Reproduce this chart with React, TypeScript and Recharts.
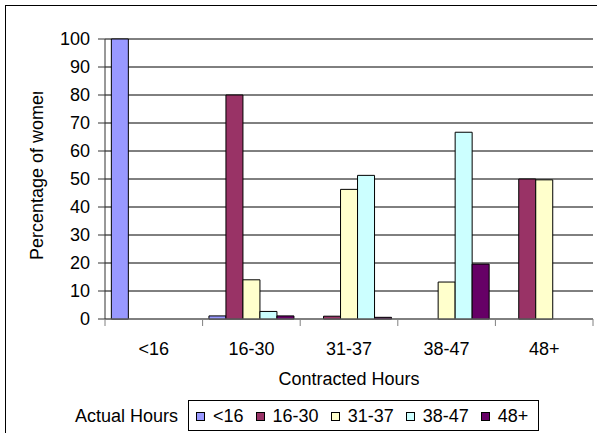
import { BarChart, Bar, XAxis, YAxis, CartesianGrid, Legend } from "recharts";

// contracted hours on the x axis, one series per band of actual hours
const contracted = ["<16", "16-30", "31-37", "38-47", "48+"];
const actualUnder16 = [100, 1.1, 0, 0, 0];
const actual16to30 = [0, 80, 1, 0, 50];
const actual31to37 = [0, 14, 46.3, 13.2, 49.7];
const actual38to47 = [0, 2.7, 51.3, 66.7, 0];
const actual48plus = [0, 1.1, 0.6, 19.6, 0];
const percentTicks = [0, 10, 20, 30, 40, 50, 60, 70, 80, 90, 100];

const series = [
  { key: "under16", name: "<16", values: actualUnder16, fill: "#9999FF" },
  { key: "h16to30", name: "16-30", values: actual16to30, fill: "#993366" },
  { key: "h31to37", name: "31-37", values: actual31to37, fill: "#FFFFCC" },
  { key: "h38to47", name: "38-47", values: actual38to47, fill: "#CCFFFF" },
  { key: "h48plus", name: "48+", values: actual48plus, fill: "#660066" },
];

const data = contracted.map((c, i) => {
  const row: Record<string, string | number> = { contracted: c };
  series.forEach((s) => (row[s.key] = s.values[i]));
  return row;
});

const FONT = '"Liberation Sans", Arial, sans-serif';

// tick marks sit on the category boundaries, labels in the middle
const ContractedTick = (props: any) => {
  const { x, y, payload, index, visibleTicksCount } = props;
  const half = payload?.offset || 48.8;
  const last = index === visibleTicksCount - 1;
  return (
    <g>
      <line x1={x - half} x2={x - half} y1={y} y2={y + 7} stroke="#808080" />
      {last && <line x1={x + half} x2={x + half} y1={y} y2={y + 7} stroke="#808080" />}
      <text x={x} y={y + 36} textAnchor="middle" fontSize={18} fill="#000" fontFamily={FONT}>
        {payload.value}
      </text>
    </g>
  );
};

const xTitle = (props: any) => {
  const vb = props.viewBox;
  return (
    <text x={vb.x + vb.width / 2} y={vb.y + 66} textAnchor="middle" fontSize={18} fill="#000" fontFamily={FONT}>
      Contracted Hours
    </text>
  );
};

// the title runs past the top of the chart area and gets cut off
const yTitle = (props: any) => {
  const vb = props.viewBox;
  const tx = vb.x + 43;
  const ty = vb.y + 221;
  return (
    <g>
      <defs>
        <clipPath id="ytitle-clip">
          <rect x={0} y={92} width={105} height={300} />
        </clipPath>
      </defs>
      <g clipPath="url(#ytitle-clip)">
        <text x={tx} y={ty} transform={`rotate(-90 ${tx} ${ty})`} fontSize={18} fill="#000" fontFamily={FONT}>
          Percentage of women
        </text>
      </g>
    </g>
  );
};

const renderLegend = () => (
  <div style={{ display: "flex", alignItems: "center", fontFamily: FONT, fontSize: 18, color: "#000", lineHeight: "20px" }}>
    <span style={{ marginRight: 10 }}>Actual Hours</span>
    <div
      style={{
        display: "flex",
        alignItems: "center",
        border: "1px solid #000",
        height: 29,
        padding: "0 10px 0 7px",
        background: "#fff",
      }}
    >
      {series.map((s, i) => (
        <span key={s.key} style={{ display: "flex", alignItems: "center", marginLeft: i ? 12 : 0 }}>
          <span
            style={{ width: 7, height: 7, border: "1px solid #000", background: s.fill, marginRight: 8, marginTop: 2 }}
          />
          {s.name}
        </span>
      ))}
    </div>
  </div>
);

export default function App() {
  return (
    <div
      style={{
        position: "absolute",
        left: 0,
        top: 0,
        width: 597,
        height: 433,
        overflow: "hidden",
        background: "#fff",
        fontFamily: FONT,
      }}
    >
      <div
        style={{
          position: "absolute",
          left: 5,
          top: 5,
          width: 640,
          height: 480,
          borderLeft: "1px solid #000",
          borderTop: "1px solid #000",
        }}
      />
      <BarChart
        width={597}
        height={433}
        data={data}
        margin={{ top: 39, right: 4, left: 0, bottom: 0 }}
        barCategoryGap="6.5%"
        barGap={0}
      >
        <CartesianGrid horizontal vertical={false} stroke="#000" />
        <XAxis
          dataKey="contracted"
          height={114}
          axisLine={{ stroke: "#808080" }}
          tickLine={false}
          tickSize={0}
          tickMargin={0}
          interval={0}
          tick={<ContractedTick />}
          label={xTitle}
        />
        <YAxis
          width={105}
          domain={[0, 100]}
          ticks={percentTicks}
          interval={0}
          axisLine={{ stroke: "#333" }}
          tickLine={{ stroke: "#333" }}
          tickSize={7}
          tickMargin={8}
          tick={{ fill: "#000", fontSize: 18, fontFamily: FONT }}
          label={yTitle}
        />
        <Legend
          layout="horizontal"
          verticalAlign="middle"
          align="center"
          content={renderLegend}
          wrapperStyle={{ left: 75, top: 400, width: "auto", height: "auto" }}
        />
        {series.map((s) => (
          <Bar
            key={s.key}
            dataKey={s.key}
            name={s.name}
            fill={s.fill}
            stroke="#000"
            strokeWidth={1}
            isAnimationActive={false}
          />
        ))}
      </BarChart>
    </div>
  );
}
